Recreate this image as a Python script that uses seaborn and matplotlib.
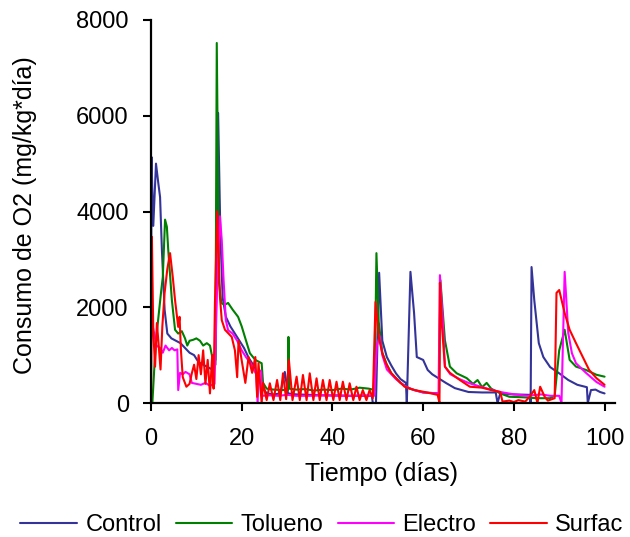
import matplotlib
matplotlib.use('Agg')
import matplotlib.pyplot as plt
import seaborn as sns

# Series (day, O2 consumption)
control_days = [0.0, 0.1, 0.5, 1.1, 1.6, 2.0, 2.4, 3.0, 3.6, 4.5, 5.5, 6.5, 7.5, 8.5, 9.5, 10.5,
                11.5, 12.5, 13.5, 14.2, 14.8, 15.3, 15.8, 16.5, 17.5, 18.5, 19.5, 20.5, 21.5, 22.5,
                23.5, 24.5, 25.5, 27.0, 28.5, 29.5, 30.2, 32.0, 35.0, 38.0, 41.0, 44.0, 47.0, 48.7,
                48.9, 49.6, 50.3, 51.0, 52.0, 53.0, 54.0, 55.0, 56.2, 56.4, 57.2, 58.0, 58.6, 60.0,
                61.0, 62.0, 63.0, 65.0, 67.0, 70.0, 73.0, 76.0, 76.4, 77.0, 80.0, 83.5, 83.7, 83.9,
                84.5, 85.5, 86.5, 88.0, 90.0, 92.0, 94.0, 96.1, 96.3, 97.0, 98.0, 99.0, 100.0]
control_vals = [0, 5140, 3700, 5000, 4600, 4300, 3200, 1950, 1450, 1350, 1300, 1250, 1150, 1050, 1000, 850,
                800, 750, 700, 800, 6060, 3500, 2200, 1800, 1600, 1450, 1300, 1150, 950, 800,
                550, 350, 200, 180, 200, 650, 200, 180, 170, 160, 160, 150, 150, 150,
                0, 0, 2720, 1300, 960, 780, 620, 500, 420, 0, 2740, 1880, 960, 900,
                690, 600, 540, 420, 310, 230, 220, 220, 0, 200, 180, 170, 0, 2840,
                2150, 1250, 960, 750, 620, 480, 380, 330, 0, 270, 280, 230, 200]

tolueno_days = [0.0, 0.3, 1.0, 1.5, 2.2, 2.6, 3.1, 3.5, 3.8, 4.6, 5.3, 6.0, 6.8, 7.5, 8.0, 8.5,
                9.3, 10.0, 10.8, 11.5, 12.3, 13.0, 13.5, 14.2, 14.5, 15.0, 15.5, 16.2, 17.0, 18.0,
                19.2, 20.0, 20.7, 21.8, 23.0, 24.4, 24.7, 25.5, 27.0, 29.0, 30.2, 30.3, 30.5, 32.0,
                34.0, 36.0, 38.0, 40.0, 42.0, 44.0, 46.0, 48.0, 49.3, 49.7, 50.2, 51.0, 52.0, 53.0,
                55.0, 57.0, 60.0, 63.5, 63.8, 64.8, 65.9, 67.4, 69.6, 71.0, 72.0, 73.0, 74.0, 75.0,
                77.0, 79.0, 82.0, 85.0, 88.0, 89.0, 90.0, 91.2, 92.3, 93.7, 95.9, 98.2, 100.0]
tolueno_vals = [0, 0, 1200, 1670, 2300, 2630, 3830, 3680, 3200, 2150, 1530, 1450, 1500, 1350, 1200, 1300,
                1320, 1350, 1300, 1200, 1250, 1200, 960, 900, 7520, 2500, 2090, 2050, 2090, 1950,
                1800, 1600, 1380, 1040, 900, 830, 420, 300, 280, 270, 270, 1380, 300, 280,
                290, 260, 280, 270, 300, 280, 320, 300, 270, 3130, 1700, 1050, 800, 620,
                420, 300, 220, 200, 2570, 1310, 760, 620, 520, 400, 480, 330, 420, 300,
                200, 130, 120, 100, 100, 150, 1100, 1530, 900, 760, 690, 590, 550]

electro_days = [0.0, 0.3, 0.8, 1.2, 2.0, 2.6, 3.2, 4.0, 4.6, 5.2, 5.8, 6.0, 6.4, 7.0, 7.6, 8.5,
                9.0, 10.0, 11.0, 12.0, 13.0, 14.0, 14.6, 15.2, 15.6, 16.0, 16.5, 17.0, 18.0, 19.0,
                20.0, 21.0, 22.0, 23.2, 23.5, 23.8, 24.3, 24.5, 26.0, 28.0, 30.0, 32.0, 35.0, 38.0,
                41.0, 44.0, 47.0, 49.2, 49.8, 50.4, 51.0, 52.0, 54.0, 56.0, 58.0, 60.0, 63.4, 63.7,
                64.4, 64.8, 66.0, 68.0, 70.0, 73.0, 77.0, 80.0, 83.0, 86.0, 88.0, 90.0, 90.5, 91.2,
                92.0, 92.8, 93.7, 95.9, 98.2, 100.0]
electro_vals = [1300, 1650, 1400, 1200, 1150, 1050, 1200, 1100, 1150, 1100, 1120, 270, 630, 600, 650, 600,
                420, 400, 380, 420, 360, 400, 2500, 3900, 3400, 2570, 1730, 1520, 1450, 1300,
                1100, 950, 830, 600, 0, 700, 650, 150, 160, 150, 170, 150, 150, 160,
                150, 150, 160, 150, 1200, 1400, 1000, 700, 500, 350, 270, 220, 200, 2670,
                1600, 760, 600, 500, 420, 330, 230, 180, 150, 180, 150, 150, 0, 2740,
                1460, 1040, 830, 630, 440, 340]

surfac_days = [0.0, 0.2, 0.5, 0.9, 1.3, 1.7, 2.1, 2.5, 3.0, 3.6, 4.2, 4.8, 5.3, 6.0, 6.3, 6.6,
               7.0, 7.8, 8.5, 9.0, 9.5, 10.0, 10.5, 11.0, 11.5, 12.0, 12.5, 13.0, 13.5, 13.8,
               14.1, 14.6, 15.2, 15.6, 16.3, 17.8, 18.5, 19.0, 19.3, 20.1, 20.8, 21.5, 22.3, 23.0,
               23.4, 23.7, 24.4, 24.7, 25.5, 26.2, 27.0, 27.8, 28.5, 29.1, 29.8, 30.4, 31.2, 32.1,
               32.8, 33.5, 34.3, 35.0, 35.8, 36.5, 37.2, 37.9, 38.7, 39.4, 40.2, 40.9, 41.6, 42.3,
               43.1, 43.8, 44.6, 45.3, 46.0, 46.7, 47.5, 48.2, 48.9, 49.5, 50.2, 51.0, 51.8, 52.9,
               54.4, 55.9, 58.1, 60.3, 63.2, 63.6, 63.7, 64.1, 64.8, 65.9, 68.1, 70.3, 73.0, 75.0,
               77.0, 77.5, 79.0, 80.0, 81.0, 82.5, 83.5, 84.5, 85.2, 85.8, 86.8, 87.5, 89.0, 89.4,
               90.0, 91.2, 92.3, 93.7, 95.2, 96.6, 98.2, 100.0]
surfac_vals = [0, 3470, 1500, 760, 1670, 1200, 700, 1600, 2300, 2800, 3130, 2630, 2150, 1590, 1800, 1100,
               540, 340, 400, 620, 800, 500, 1000, 600, 1100, 400, 900, 200, 1000, 300,
               2090, 4000, 2220, 1730, 1530, 1380, 1100, 540, 1300, 830, 420, 960, 630, 960,
               130, 830, 0, 420, 60, 412, 60, 480, 60, 620, 80, 900, 60, 550,
               60, 585, 60, 620, 60, 515, 60, 480, 60, 480, 60, 445, 60, 445,
               60, 412, 60, 340, 60, 270, 60, 270, 100, 2110, 1380, 1040, 830, 630,
               480, 340, 270, 230, 170, 0, 2510, 1670, 760, 630, 480, 340, 320, 270,
               230, 30, 50, 20, 60, 30, 130, 270, 0, 340, 130, 50, 100, 2300,
               2360, 1880, 1530, 1250, 960, 690, 520, 380]

series_names = ['Control', 'Tolueno', 'Electro', 'Surfac']
series_colors = ['#333399', '#008000', '#FF00FF', '#FF0000']

sns.set_style('ticks')
plt.rcParams['font.family'] = ['Liberation Sans', 'DejaVu Sans']
plt.rcParams['text.color'] = 'black'
plt.rcParams['axes.labelcolor'] = 'black'

fig = plt.figure(figsize=(6.3, 5.37), dpi=100)
ax = fig.add_axes([151 / 630, 1 - 403 / 537, 464 / 630, 383 / 537])

all_days = [control_days, tolueno_days, electro_days, surfac_days]
all_vals = [control_vals, tolueno_vals, electro_vals, surfac_vals]
for days, vals, name, col in zip(all_days, all_vals, series_names, series_colors):
    sns.lineplot(x=days, y=vals, ax=ax, color=col, label=name, linewidth=1.5,
                 estimator=None, sort=False)

ax.set_xlim(0, 102.3)
ax.set_ylim(0, 8000)
ax.set_xticks([0, 20, 40, 60, 80, 100])
ax.set_yticks([0, 2000, 4000, 6000, 8000])
sns.despine(ax=ax)
for side in ['left', 'bottom']:
    ax.spines[side].set_linewidth(1.6)
    ax.spines[side].set_color('black')
ax.tick_params(axis='both', direction='out', length=6, width=1.5, labelsize=17,
               colors='black', labelcolor='black')
ax.tick_params(axis='x', pad=12)
ax.tick_params(axis='y', pad=10)

ax.set_xlabel('Tiempo (días)', fontsize=18, color='black')
ax.set_ylabel('Consumo de O2 (mg/kg*día)', fontsize=18, color='black')
ax.xaxis.set_label_coords(0.497, -0.155)
ax.yaxis.set_label_coords(-0.245, 0.49)

handles, labels = ax.get_legend_handles_labels()
ax.get_legend().remove()
leg = fig.legend(handles, labels, loc='center', bbox_to_anchor=(322 / 630, 1 - 525 / 537), ncol=4,
                 frameon=False, fontsize=17, handlelength=2.4, handletextpad=0.35, columnspacing=0.6)
for t in leg.get_texts():
    t.set_color('black')

plt.savefig('out.png', dpi=100)
